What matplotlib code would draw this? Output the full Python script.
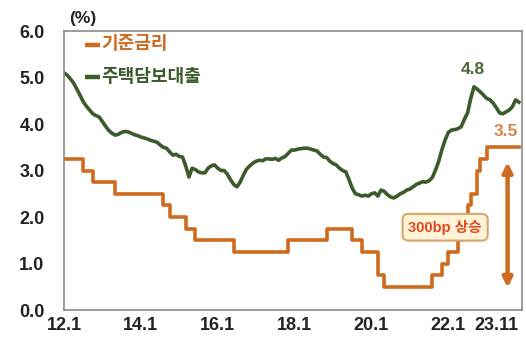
import numpy as np
import matplotlib.pyplot as plt

plt.rcParams['font.family'] = ['Liberation Sans', 'Noto Sans CJK KR', 'DejaVu Sans']

# Months counted from 2012.01 (index 0) to 2023.11 (index 142)
months = np.arange(143)

# Mortgage loan rate (%), monthly
mortgage = [
    5.10, 5.05, 4.97, 4.88, 4.75, 4.62, 4.48, 4.38, 4.30, 4.22, 4.18, 4.15,  # 2012
    4.05, 3.95, 3.86, 3.80, 3.76, 3.78, 3.82, 3.84, 3.83, 3.80, 3.77, 3.75,  # 2013
    3.72, 3.70, 3.68, 3.65, 3.63, 3.61, 3.55, 3.50, 3.48, 3.40, 3.33, 3.35,  # 2014
    3.30, 3.29, 3.10, 2.86, 3.05, 3.02, 2.97, 2.95, 2.95, 3.05, 3.10, 3.12,  # 2015
    3.05, 3.00, 3.00, 2.92, 2.80, 2.70, 2.65, 2.75, 2.90, 3.03, 3.10, 3.16,  # 2016
    3.20, 3.22, 3.21, 3.25, 3.25, 3.24, 3.26, 3.22, 3.27, 3.30, 3.37, 3.44,  # 2017
    3.44, 3.46, 3.47, 3.48, 3.48, 3.46, 3.44, 3.42, 3.35, 3.29, 3.28, 3.20,  # 2018
    3.15, 3.12, 3.05, 3.00, 2.97, 2.80, 2.62, 2.50, 2.48, 2.45, 2.47, 2.45,  # 2019
    2.50, 2.52, 2.45, 2.58, 2.55, 2.48, 2.43, 2.41, 2.45, 2.50, 2.53, 2.58,  # 2020
    2.60, 2.65, 2.70, 2.73, 2.76, 2.75, 2.78, 2.85, 3.01, 3.20, 3.45, 3.66,  # 2021
    3.82, 3.87, 3.88, 3.90, 3.94, 4.10, 4.24, 4.55, 4.80, 4.75, 4.69, 4.62,  # 2022
    4.55, 4.52, 4.45, 4.35, 4.24, 4.22, 4.26, 4.30, 4.37, 4.52, 4.47,        # 2023
]

# Base rate (%): month index of each change and the new rate
base_month = [0, 6, 9, 16, 31, 33, 38, 41, 53, 70, 82, 90, 93, 98, 100,
              115, 118, 120, 123, 124, 126, 127, 129, 130, 132, 142]
base_rate = [3.25, 3.00, 2.75, 2.50, 2.25, 2.00, 1.75, 1.50, 1.25, 1.50, 1.75,
             1.50, 1.25, 0.75, 0.50, 0.75, 1.00, 1.25, 1.50, 1.75, 2.25, 2.50,
             3.00, 3.25, 3.50, 3.50]

tick_pos = [0, 24, 48, 72, 96, 120, 142]
tick_labels = ['12.1', '14.1', '16.1', '18.1', '20.1', '22.1', '23.11']

orange = '#CF6A1E'
green = '#3C5A2A'

fig = plt.figure(figsize=(5.26, 3.40), dpi=100)
ax = fig.add_axes([0.1217, 0.0882, 0.8707, 0.8206])

ax.step(base_month, base_rate, where='post', color=orange, lw=2.6)
ax.plot(months, mortgage, color=green, lw=2.6)

ax.set_xlim(0, 143)
ax.set_ylim(0, 6)
ax.set_yticks(np.arange(0, 7))
ax.set_yticklabels(['%.1f' % v for v in range(7)], fontsize=13, fontweight='bold', color='#222222')
ax.set_xticks(tick_pos)
ax.set_xticklabels(tick_labels, fontsize=13, fontweight='bold', color='#222222')
ax.get_xticklabels()[-1].set_horizontalalignment('right')
ax.tick_params(axis='y', length=0, pad=14)
ax.tick_params(axis='x', length=0, pad=5)
for s in ax.spines.values():
    s.set_color('#8a8a8a')
    s.set_linewidth(1.2)

fig.text(0.158, 0.947, '(%)', fontsize=12.5, fontweight='bold', ha='center', va='center', color='#222222')

# hand-made legend
for y, label, c in [(0.95, '기준금리', orange), (0.835, '주택담보대출', green)]:
    ax.plot([0.046, 0.079], [y, y], transform=ax.transAxes, color=c, lw=3.2, solid_capstyle='butt')
    ax.text(0.081, y, label, transform=ax.transAxes, color=c, fontsize=13,
            fontweight='bold', va='center', ha='left')

ax.text(127.5, 5.17, '4.8', color='#4C6A38', fontsize=12.5, fontweight='bold', ha='center', va='center')
ax.text(137.8, 3.83, '3.5', color='#D8844A', fontsize=12.5, fontweight='bold', ha='center', va='center')

ax.annotate('', xy=(138.5, 0.48), xytext=(138.5, 3.18),
            arrowprops=dict(arrowstyle='<|-|>', color=orange, lw=3.2,
                            mutation_scale=14, shrinkA=0, shrinkB=0))

ax.text(119, 1.78, '300bp 상승', color='#E2461E', fontsize=10.5, fontweight='bold',
        ha='center', va='center',
        bbox=dict(boxstyle='round,pad=0.4', fc='#FFF3D8', ec='#D9A66A', lw=1.5))

fig.savefig('out.png', dpi=100)
